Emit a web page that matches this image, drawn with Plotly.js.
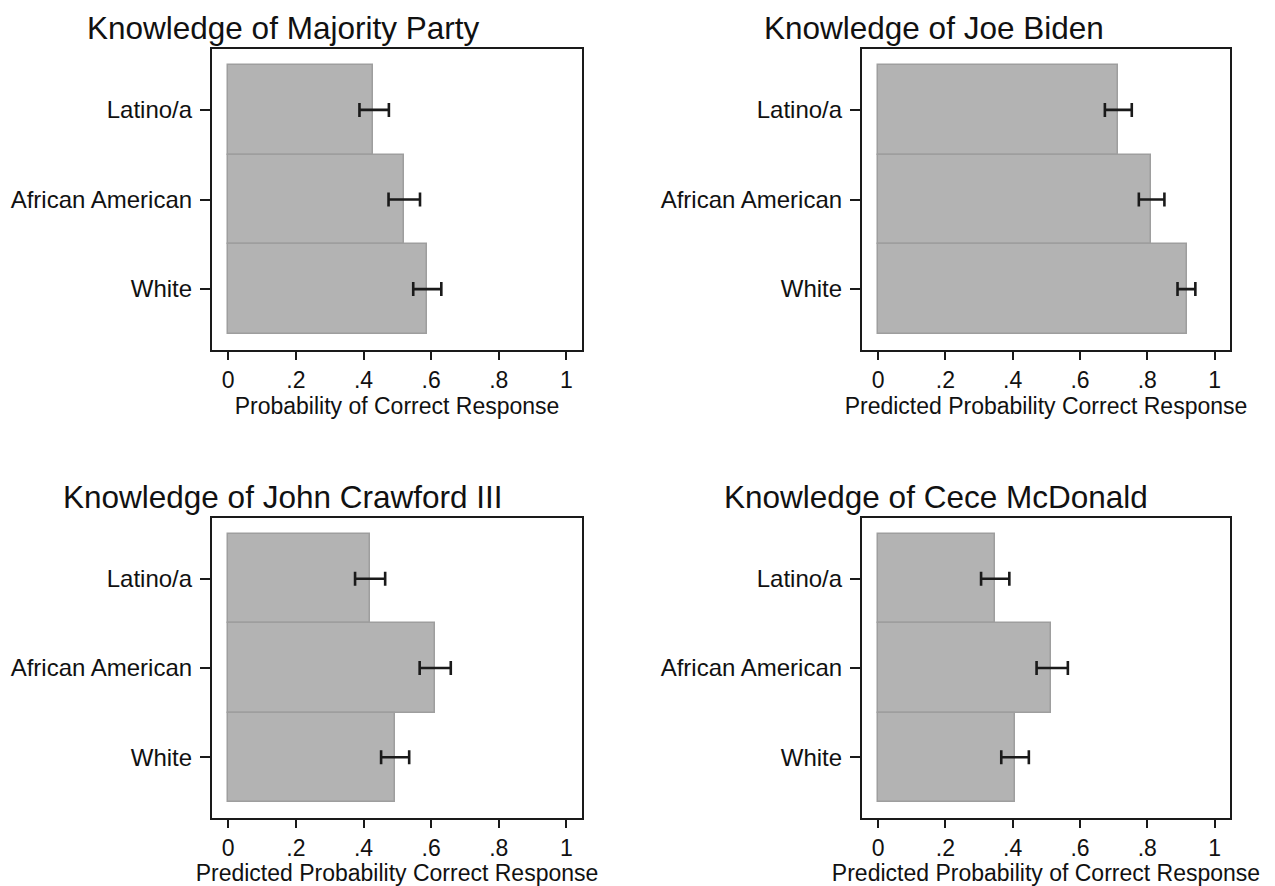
<!DOCTYPE html>
<html>
<head>
<meta charset="utf-8">
<script src="https://cdn.plot.ly/plotly-3.0.1.min.js"></script>
<style>html,body{margin:0;padding:0;background:#fff;}#chart{width:1275px;height:886px;}</style>
</head>
<body>
<div id="chart"></div>
<script>
// ---- Data ----
const categories = ['Latino/a', 'African American', 'White'];
const xTickVals = [0, 0.2, 0.4, 0.6, 0.8, 1];
const xTickText = ['0', '.2', '.4', '.6', '.8', '1'];

const panelTitles = ['Knowledge of Majority Party', 'Knowledge of Joe Biden',
                     'Knowledge of John Crawford III', 'Knowledge of Cece McDonald'];
const xTitles = ['Probability of Correct Response', 'Predicted Probability Correct Response',
                 'Predicted Probability Correct Response', 'Predicted Probability of Correct Response'];

const majorityMean = [0.429, 0.521, 0.589];
const majorityLow  = [0.388, 0.474, 0.547];
const majorityHigh = [0.475, 0.567, 0.630];

const bidenMean = [0.712, 0.811, 0.917];
const bidenLow  = [0.674, 0.775, 0.890];
const bidenHigh = [0.754, 0.851, 0.943];

const crawfordMean = [0.419, 0.612, 0.492];
const crawfordLow  = [0.375, 0.566, 0.452];
const crawfordHigh = [0.464, 0.658, 0.535];

const mcdonaldMean = [0.347, 0.515, 0.406];
const mcdonaldLow  = [0.306, 0.471, 0.366];
const mcdonaldHigh = [0.390, 0.564, 0.448];

// ---- Layout helpers ----
const W = 1275, H = 886;
const px = x => x / W;
const py = y => 1 - y / H;
const FONT = '"Liberation Sans", Arial, Helvetica, sans-serif';

const panels = [
  {mean: majorityMean, lo: majorityLow, hi: majorityHigh, box: [212, 582, 49, 350], title: [85, 28], standoff: 6},
  {mean: bidenMean, lo: bidenLow, hi: bidenHigh, box: [862, 1230, 49, 350], title: [762, 28], standoff: 6},
  {mean: crawfordMean, lo: crawfordLow, hi: crawfordHigh, box: [212, 582, 518, 818], title: [61, 497], standoff: 2},
  {mean: mcdonaldMean, lo: mcdonaldLow, hi: mcdonaldHigh, box: [862, 1230, 518, 818], title: [722, 497], standoff: 2}
];

const data = [];
const layout = {
  width: W, height: H,
  margin: {l: 0, r: 0, t: 0, b: 0},
  paper_bgcolor: '#fff', plot_bgcolor: '#fff',
  showlegend: false,
  bargap: 0,
  font: {family: FONT, color: '#111', size: 24},
  annotations: []
};

panels.forEach((p, i) => {
  const n = i === 0 ? '' : String(i + 1);
  data.push({
    type: 'bar', orientation: 'h',
    x: p.mean, y: categories,
    xaxis: 'x' + n, yaxis: 'y' + n,
    width: 1,
    marker: {color: '#b3b3b3', line: {color: '#9e9e9e', width: 1.5}},
    error_x: {
      type: 'data', symmetric: false,
      array: p.hi.map((h, k) => h - p.mean[k]),
      arrayminus: p.mean.map((m, k) => m - p.lo[k]),
      color: '#1a1a1a', thickness: 2.6, width: 7
    },
    hoverinfo: 'x+y'
  });
  const [x0, x1, y0, y1] = p.box;
  layout['xaxis' + n] = {
    domain: [px(x0), px(x1)],
    anchor: 'y' + n,
    range: [-0.048, 1.046],
    tickvals: xTickVals, ticktext: xTickText,
    ticks: 'outside', ticklen: 8, tickwidth: 2, tickcolor: '#1a1a1a',
    showline: true, linecolor: '#1a1a1a', linewidth: 2.2, mirror: true,
    showgrid: false, zeroline: false,
    tickfont: {size: 23, family: FONT, color: '#111'},
    title: {text: xTitles[i], font: {size: 23, family: FONT, color: '#111'}, standoff: p.standoff},
    fixedrange: true
  };
  layout['yaxis' + n] = {
    domain: [py(y1), py(y0)],
    anchor: 'x' + n,
    type: 'category',
    categoryorder: 'array', categoryarray: categories,
    range: [2.68, -0.68],
    ticks: 'outside', ticklen: 10, tickwidth: 2, tickcolor: '#1a1a1a',
    ticklabelstandoff: 3,
    showline: true, linecolor: '#1a1a1a', linewidth: 2.2, mirror: true,
    showgrid: false, zeroline: false,
    tickfont: {size: 24, family: FONT, color: '#111'},
    fixedrange: true
  };
  layout.annotations.push({
    text: panelTitles[i],
    xref: 'paper', yref: 'paper',
    x: px(p.title[0]), y: py(p.title[1]),
    xanchor: 'left', yanchor: 'middle',
    showarrow: false,
    font: {size: 31.5, family: FONT, color: '#111'}
  });
});

Plotly.newPlot('chart', data, layout, {displayModeBar: false, staticPlot: false});
</script>
</body>
</html>
